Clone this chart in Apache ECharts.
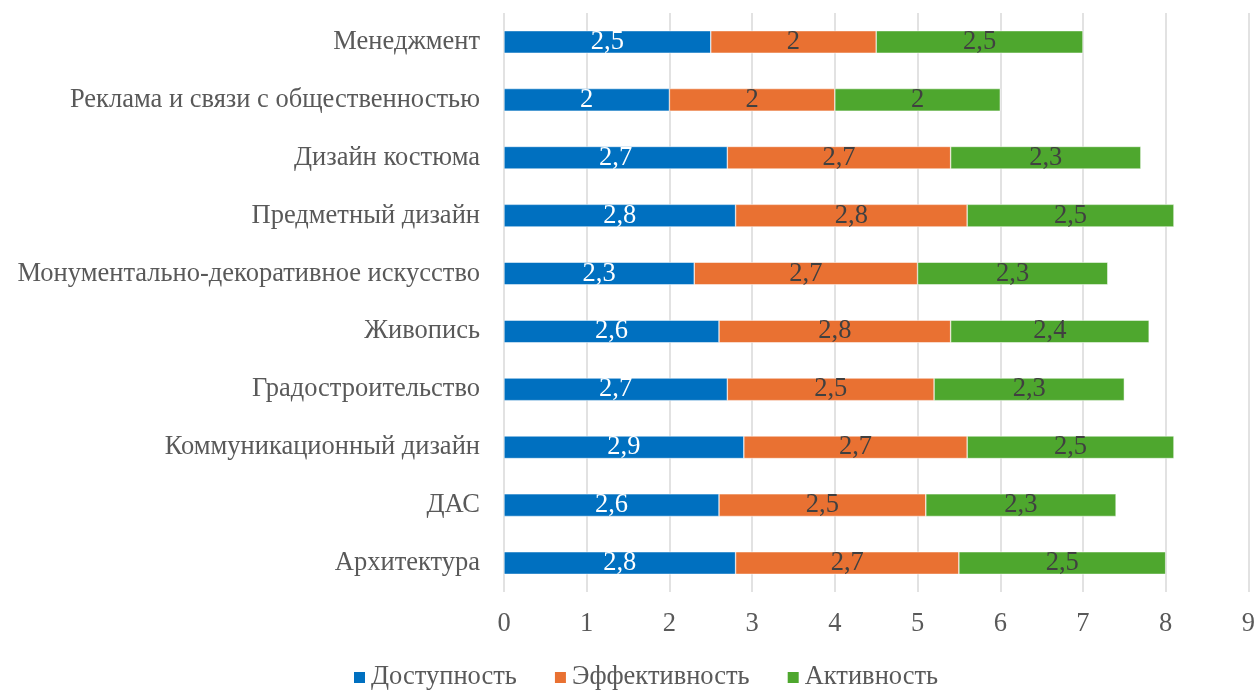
<!DOCTYPE html>
<html><head><meta charset="utf-8">
<script src="https://cdn.jsdelivr.net/npm/echarts@6/dist/echarts.min.js"></script>
<style>html,body{margin:0;padding:0;background:#fff}#c{width:1258px;height:693px}</style>
</head><body><div id="c"></div>
<script>
const categories = ["Архитектура","ДАС","Коммуникационный дизайн","Градостроительство","Живопись","Монументально-декоративное искусство","Предметный дизайн","Дизайн костюма","Реклама и связи с общественностью","Менеджмент"];
const dostupnost = [2.8,2.6,2.9,2.7,2.6,2.3,2.8,2.7,2,2.5];
const effektivnost = [2.7,2.5,2.7,2.5,2.8,2.7,2.8,2.7,2,2];
const aktivnost = [2.5,2.3,2.5,2.3,2.4,2.3,2.5,2.3,2,2.5];
const seriesNames = ["Доступность","Эффективность","Активность"];
const colors = ["#0070C0","#E97132","#4EA72E"];
const font = "'Liberation Serif','Times New Roman',serif";
const fs = 26.5;
const fmt = p => String(p.value).replace('.', ',');
function mk(name, data, color, labelColor){
  return {name, type:'bar', stack:'s', data, barWidth:'39%',
    itemStyle:{color, borderColor:'#fff', borderWidth:0.5},
    label:{show:true, position:'inside', formatter:fmt, color:labelColor, fontFamily:font, fontSize:fs},
    emphasis:{disabled:true}};
}
const chart = echarts.init(document.getElementById('c'), null, {renderer:'canvas'});
chart.setOption({
  animation:false,
  textStyle:{fontFamily:font},
  grid:{left:504, right:9, top:13, bottom:101, containLabel:false},
  legend:{top:659, left:347, itemWidth:13, itemHeight:13, itemGap:36, icon:'rect',
    textStyle:{fontFamily:font, fontSize:fs, color:'#595959'}, data:seriesNames},
  xAxis:{type:'value', min:0, max:9, interval:1,
    axisLine:{show:false}, axisTick:{show:false},
    splitLine:{show:true, lineStyle:{color:'#d9d9d9', width:1.5}},
    axisLabel:{fontFamily:font, fontSize:fs, color:'#595959', margin:19}},
  yAxis:{type:'category', data:categories,
    axisLine:{show:false}, axisTick:{show:false},
    axisLabel:{fontFamily:font, fontSize:fs, color:'#595959', margin:24}},
  series:[
    mk(seriesNames[0], dostupnost, colors[0], '#ffffff'),
    mk(seriesNames[1], effektivnost, colors[1], '#404040'),
    mk(seriesNames[2], aktivnost, colors[2], '#404040')
  ]
});
</script></body></html>
